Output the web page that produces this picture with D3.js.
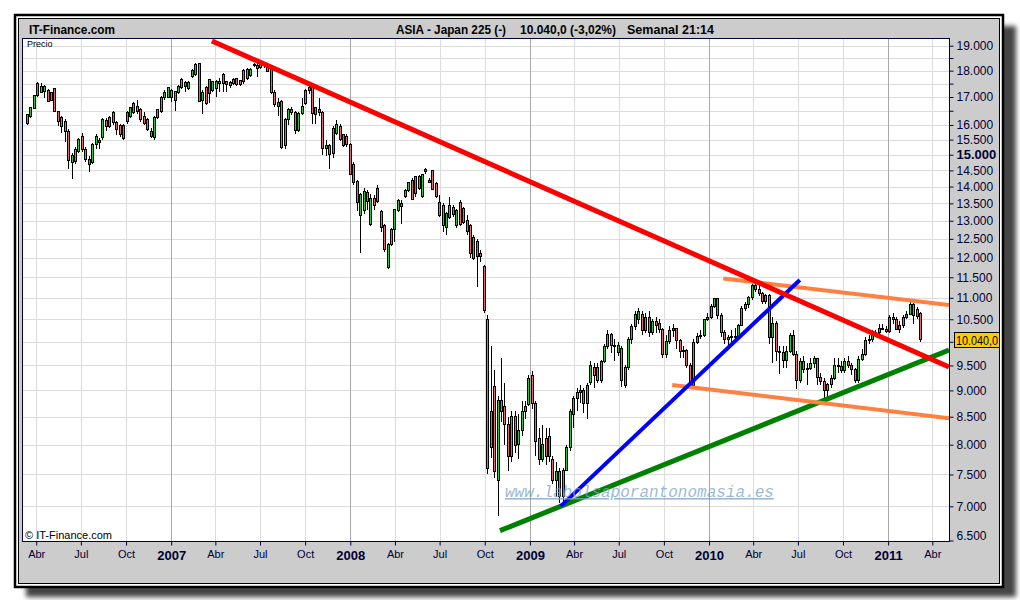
<!DOCTYPE html>
<html>
<head>
<meta charset="utf-8">
<script src="https://cdn.jsdelivr.net/npm/d3@7"></script>
<style>
    body { margin: 0; background: #ffffff; }
    svg text { font-family: "Liberation Sans", Arial, sans-serif; }
</style>
</head>
<body>
<svg id="chart" width="1020" height="600"></svg>
<script>
// Japan 225, weekly candles from the week of 13 Mar 2006 to the week of 7 Mar 2011
const firstWeek = new Date(2006, 2, 13);
const lastWeek = new Date(2011, 2, 7);

const opens = [
    16050,16300,16590,17060,17410,17220,17240,16890,17300,16480,16260,16130,15790,
    14755,14790,15110,15600,15180,14690,14760,15340,15420,15570,16160,15950,16080,
    16080,15980,15540,16120,16290,16430,16640,16540,16290,16190,15770,15570,16260,
    16470,16970,17000,17260,17190,17150,17370,17400,17300,17760,17850,18280,16880,
    17370,17140,17260,17300,17570,17520,17570,17420,17650,17690,17610,17570,18060,
    17800,18200,18200,18130,18280,18160,18050,17180,16650,16830,15300,16200,16550,
    16450,15800,16400,16750,17250,17400,16350,16450,16450,15220,15320,15040,15700,
    15950,15300,15620,15340,14690,14160,13160,13290,13820,12900,13650,13950,13270,
    12860,11750,12350,12760,13290,13400,13690,13880,14200,13780,13950,13700,14520,
    14200,14490,14100,13530,13450,12800,13100,13380,12860,13530,13350,13000,12860,
    12550,12020,12120,11760,10500,7950,9070,7400,8800,8700,8350,7800,8500,
    8000,8250,8600,8730,9300,8750,8100,7750,8100,8150,7750,7400,7550,
    7150,7570,7950,8550,8850,8950,9000,8750,9150,9450,9450,9200,9580,
    9900,10150,9920,9780,9850,9100,9450,10050,10340,10500,10600,10250,10550,
    10200,10450,10400,10265,9730,10016,10257,10282,10034,9789,9804,9500,9100,
    9977,10107,10142,10494,10546,10798,10980,10590,10198,10057,10092,10123,10126,
    10368,10751,10846,10996,11286,11204,11102,10914,11050,10100,10400,9784,9762,
    9600,9800,10143,9737,9203,9585,9408,9431,9537,9642,9253,9179,8991,
    9114,9239,9509,9471,9404,9589,9500,9426,9202,9625,9724,10022,10039,
    10178,10211,10303,10279,10229,10541,10499,10274,10360,10543,10605,10842,10720,
    10640
];
const highs = [
    16400,16640,17080,17560,17520,17440,17300,17200,17350,16500,16300,16200,15850,
    15050,15250,15550,15740,15250,14950,15380,15680,15570,16250,16250,16300,16480,
    16150,16050,16030,16480,16650,16830,16890,16600,16470,16250,15910,16300,16580,
    17050,17260,17380,17300,17230,17450,17700,17600,17600,18050,18300,18320,17260,
    17400,17680,17600,17620,17720,17900,17600,17600,17700,17720,17650,18050,18100,
    18100,18300,18300,18320,18320,18200,18100,17250,16950,16900,16250,16600,16620,
    16500,16450,16950,17300,17450,17450,16650,16950,16480,15500,15350,15960,16170,
    16050,15700,15700,15400,14750,14200,13800,13950,13900,13780,13750,14050,13300,
    12900,12400,12800,13350,13620,13600,13920,14150,14250,14320,14350,14400,14560,
    14250,14520,14150,13750,13500,13250,13680,13450,13350,13600,13400,13150,12900,
    12600,12500,12200,11800,10600,9900,9400,8900,9650,9150,8500,8600,8600,
    8550,8800,8800,9300,9380,8800,8300,8350,8300,8300,7800,7700,7600,
    7600,8000,8650,8900,9050,9100,9050,9150,9600,9550,9550,9620,9950,
    10250,10200,10050,10000,9900,9500,10100,10400,10680,10750,10700,10650,10700,
    10500,10550,10500,10300,10150,10350,10400,10300,10050,9900,9850,9550,10050,
    10200,10250,10500,10650,10850,11000,11000,10650,10250,10150,10250,10300,10400,
    10800,10900,11050,11330,11350,11300,11150,11100,11100,10550,10450,9900,9900,
    9900,10200,10250,9800,9650,9700,9550,9650,9700,9650,9350,9250,9150,
    9300,9650,9650,9600,9650,9700,9550,9450,9700,9850,10100,10150,10250,
    10250,10400,10400,10350,10600,10650,10550,10450,10600,10700,10900,10870,10780,
    10660
];
const lows = [
    16000,16250,16550,17000,17130,16960,16800,16850,16450,15950,15740,15410,14530,
    14225,14700,15050,15100,14750,14440,14700,15180,15180,15500,15800,15900,16000,
    15670,15600,15500,16050,16250,16400,16400,16100,16000,15780,15570,15500,16200,
    16430,16900,16950,16830,16480,17100,17300,17200,17250,17700,17800,16800,16380,
    16700,16780,17200,17010,17200,17200,17200,17350,17450,17400,17400,17500,17650,
    17750,18150,17760,18050,18120,17950,17100,16650,16300,15200,15200,16000,16350,
    15700,15750,16350,16700,17100,16050,16050,16300,15000,14950,14530,14900,15650,
    15450,15250,15250,14350,14050,13290,12120,13200,13300,12860,13300,13500,12700,
    12150,11700,12300,12420,13250,12900,13650,13850,13600,13700,13900,13650,14400,
    14100,13900,13650,13100,12690,12600,13050,13100,12800,12850,12900,12600,11990,
    11950,11250,11900,10650,7500,7770,7450,6850,8400,8000,7550,7700,7850,
    7750,8150,8450,8700,8650,7800,7650,7700,7650,7700,7350,7150,7050,
    7050,7550,7900,8300,8600,8750,8570,8450,9100,9050,9150,9150,9550,
    9850,9750,9600,9700,9070,9050,9400,9950,10250,10400,10150,10200,10100,
    10150,10200,10200,9650,9650,9950,10100,9850,9650,9650,9450,9080,9050,
    9950,10050,10100,10450,10500,10750,10500,10100,9950,9900,10000,10050,10100,
    10350,10700,10750,10950,11150,11050,10850,10850,9950,9550,9600,9330,9450,
    9450,9750,9700,9030,9150,9350,9100,9400,9450,9100,9100,8830,8820,
    9050,9200,9350,9350,9350,9450,9300,9150,9150,9600,9700,9950,10000,
    10100,10150,10250,10200,10200,10400,10250,10200,10300,10500,10600,10400,10500,
    9990
];
const closes = [
    16360,16600,17040,17510,17150,17400,16830,17160,16480,16130,15950,15790,14800,
    14980,15180,15500,15180,14850,14850,15340,15620,15470,16190,15960,16260,16430,
    15840,15670,15980,16430,16610,16780,16470,16190,16050,15840,15610,16260,16540,
    17000,17150,17340,16970,16890,17410,17660,17540,17550,18000,18250,16850,17180,
    16780,17650,17570,17600,17510,17850,17480,17560,17510,17450,17450,18000,17700,
    18040,18250,18100,18280,18200,17980,17150,16720,16800,15240,16200,16550,16450,
    15800,16400,16650,17250,17350,16410,16620,16550,15220,15300,15000,15890,16000,
    15500,15670,15340,14380,14110,13530,13760,13850,13550,13650,13450,13550,12800,
    12220,12350,12760,13320,13580,13500,13880,14120,13600,14300,14300,14370,14480,
    14130,13920,13690,13150,12860,13200,13450,13180,13290,12900,12960,12700,12110,
    11990,12430,12020,10700,7600,8600,7550,8800,8600,8350,7800,8500,7980,
    8250,8600,8700,9230,8750,8050,7750,8000,7800,7800,7400,7550,7150,
    7570,7950,8600,8850,8950,9000,8750,9100,9500,9300,9200,9580,9900,
    10150,9920,9900,9920,9200,9450,10050,10340,10600,10680,10250,10550,10200,
    10450,10370,10265,9730,10016,10257,10282,10034,9789,9804,9497,9100,9977,
    10107,10142,10494,10546,10798,10982,10590,10198,10057,10092,10123,10126,10368,
    10751,10846,10996,11286,11204,11102,10914,11057,10100,10400,9784,9762,9600,
    9800,10143,9737,9203,9585,9408,9431,9537,9642,9253,9179,8991,9114,
    9239,9509,9471,9404,9589,9500,9426,9202,9625,9724,10022,10039,10178,
    10211,10303,10279,10229,10541,10499,10274,10360,10543,10605,10842,10580,10560,
    10040
];

// price axis (log scale in the original), every 500 points
const yTicks = [6500,7000,7500,8000,8500,9000,9500,10000,10500,11000,11500,12000,12500,
    13000,13500,14000,14500,15000,15500,16000,16500,17000,17500,18000,18500,19000];
const yUnlabelled = [10000, 16500, 17500, 18500]; // 10.000 sits under the last price box
const yBold = 15000;

// time axis: quarters, years in bold
const xTicks = ["2006-04-01","2006-07-01","2006-10-01","2007-01-01","2007-04-01","2007-07-01",
    "2007-10-01","2008-01-01","2008-04-01","2008-07-01","2008-10-01","2009-01-01","2009-04-01",
    "2009-07-01","2009-10-01","2010-01-01","2010-04-01","2010-07-01","2010-10-01","2011-01-01",
    "2011-04-01"];
const monthNames = { 3: "Abr", 6: "Jul", 9: "Oct" };

// hand drawn trend lines: [date, price] end points
const redLine = [["2007-03-25", 19195], ["2011-05-05", 9470]];
const orangeTop = [["2010-01-30", 11470], ["2011-05-05", 10830]];
const orangeBottom = [["2009-10-18", 9107], ["2011-05-05", 8472]];
const blueLine = [["2009-03-05", 7003], ["2010-07-05", 11434]];
const greenLine = [["2008-11-01", 6640], ["2011-05-05", 9823]];

const lastPrice = 10040;
const titleLeft = "IT-Finance.com";
const titleParts = ["ASIA - Japan 225 (-)", "10.040,0 (-3,02%)", "Semanal  21:14"];

// ---------------------------------------------------------------
const parseDate = d3.timeParse("%Y-%m-%d");
const esLocale = d3.formatLocale({ decimal: ",", thousands: ".", grouping: [3], currency: ["", "€"] });
const fmtInt = esLocale.format(",d");
const fmtPrice = esLocale.format(",.1f");

const plot = { left: 22, right: 949, top: 38, bottom: 541 };

const svg = d3.select("#chart");

// drop shadow behind the panel
const defs = svg.append("defs");
defs.append("filter").attr("id", "blur")
    .attr("x", "-5%").attr("y", "-5%").attr("width", "110%").attr("height", "110%")
    .append("feGaussianBlur").attr("stdDeviation", 2.5);
defs.append("clipPath").attr("id", "plotClip")
    .append("rect")
    .attr("x", plot.left).attr("y", plot.top)
    .attr("width", plot.right - plot.left).attr("height", plot.bottom - plot.top);

svg.append("rect")
    .attr("x", 26).attr("y", 26).attr("width", 990).attr("height", 571)
    .attr("fill", "#454545")
    .attr("filter", "url(#blur)");

// panel with its double border
svg.append("rect")
    .attr("x", 15).attr("y", 15).attr("width", 988).attr("height", 572)
    .attr("fill", "#ffffff").attr("stroke", "#000").attr("stroke-width", 2.5);
svg.append("rect")
    .attr("x", 18.5).attr("y", 18.5).attr("width", 981).attr("height", 565)
    .attr("fill", "#cccccc").attr("stroke", "#000").attr("stroke-width", 1);

// titles, squeezed like the narrow font of the original
const titleX = [396, 520, 627];
const titleW = [110, 96, 87];
svg.append("text")
    .attr("x", 29).attr("y", 34)
    .attr("textLength", 86).attr("lengthAdjust", "spacingAndGlyphs")
    .style("font-size", "13px").style("font-weight", "bold")
    .attr("fill", "#000")
    .text(titleLeft);
titleParts.forEach((t, i) => {
    svg.append("text")
        .attr("x", titleX[i]).attr("y", 34)
        .attr("textLength", titleW[i]).attr("lengthAdjust", "spacingAndGlyphs")
        .style("font-size", "13px").style("font-weight", "bold")
        .attr("fill", "#000")
        .text(t);
});

// scales
const x = d3.scaleTime()
    .domain([new Date(2006, 2, 3), new Date(2011, 4, 5)])
    .range([plot.left, plot.right]);
const y = d3.scaleLog()
    .domain([6500, 19000])
    .range([540.5, 45.7]);

// plot background
svg.append("rect")
    .attr("x", plot.left).attr("y", plot.top)
    .attr("width", plot.right - plot.left).attr("height", plot.bottom - plot.top)
    .attr("fill", "#ffffff");

// grid
const grid = svg.append("g").attr("clip-path", "url(#plotClip)").attr("shape-rendering", "crispEdges");
grid.selectAll(".hgrid")
    .data(yTicks)
    .enter()
    .append("line")
    .attr("x1", plot.left).attr("x2", plot.right)
    .attr("y1", d => Math.round(y(d)) + 0.5).attr("y2", d => Math.round(y(d)) + 0.5)
    .attr("stroke", "#dcdcdc");
grid.selectAll(".vgrid")
    .data(xTicks.map(parseDate))
    .enter()
    .append("line")
    .attr("x1", d => Math.round(x(d)) + 0.5).attr("x2", d => Math.round(x(d)) + 0.5)
    .attr("y1", plot.top).attr("y2", plot.bottom)
    .attr("stroke", d => d.getMonth() === 0 ? "#a8a8a8" : "#dcdcdc");

// candles
const weeks = d3.timeMonday.range(firstWeek, d3.timeDay.offset(lastWeek, 1));
const n = Math.min(weeks.length, opens.length, highs.length, lows.length, closes.length);
const candleData = d3.range(n).map(i => ({
    date: weeks[i], open: opens[i], high: highs[i], low: lows[i], close: closes[i]
}));

const candles = svg.append("g").attr("clip-path", "url(#plotClip)").attr("shape-rendering", "crispEdges");
const candle = candles.selectAll(".candle")
    .data(candleData)
    .enter()
    .append("g")
    .attr("class", "candle");

candle.append("line")
    .attr("x1", d => Math.round(x(d.date)) + 0.5)
    .attr("x2", d => Math.round(x(d.date)) + 0.5)
    .attr("y1", d => y(d.high))
    .attr("y2", d => y(d.low))
    .attr("stroke", "#000")
    .attr("stroke-width", 1.3);

candle.append("rect")
    .attr("x", d => Math.round(x(d.date)) - 0.5)
    .attr("y", d => y(Math.max(d.open, d.close)))
    .attr("width", 2)
    .attr("height", d => Math.max(1, y(Math.min(d.open, d.close)) - y(Math.max(d.open, d.close))))
    .attr("fill", d => d.close >= d.open ? "#33c433" : "#e06a6a")
    .attr("stroke", "#000")
    .attr("stroke-width", 1);

// trend lines
const trend = d3.line()
    .x(d => x(parseDate(d[0])))
    .y(d => y(d[1]));
const lines = svg.append("g").attr("clip-path", "url(#plotClip)");
[
    { pts: greenLine, color: "#008000", w: 5 },
    { pts: orangeBottom, color: "#ff8040", w: 4 },
    { pts: orangeTop, color: "#ff8040", w: 4 },
    { pts: blueLine, color: "#0000ff", w: 4 },
    { pts: redLine, color: "#ff0000", w: 5 }
].forEach(l => {
    lines.append("path")
        .attr("d", trend(l.pts))
        .attr("fill", "none")
        .attr("stroke", l.color)
        .attr("stroke-width", l.w);
});

// watermark, drawn over the lines
svg.append("text")
    .attr("x", 505).attr("y", 497)
    .style("font-family", '"Liberation Mono", "DejaVu Sans Mono", monospace')
    .style("font-size", "16px").style("font-style", "italic")
    .style("text-decoration", "underline")
    .attr("fill", "#7b9fc6").attr("fill-opacity", 0.75)
    .text("www.labolsaporantonomasia.es");

// small captions inside the plot
svg.append("text")
    .attr("x", 27).attr("y", 47)
    .style("font-size", "9px").attr("fill", "#000")
    .text("Precio");
svg.append("text")
    .attr("x", 25).attr("y", 539)
    .style("font-size", "11px").attr("fill", "#000")
    .text("© IT-Finance.com");

// plot frame
svg.append("rect")
    .attr("x", plot.left + 0.5).attr("y", plot.top + 0.5)
    .attr("width", plot.right - plot.left).attr("height", plot.bottom - plot.top)
    .attr("fill", "none").attr("stroke", "#000040").attr("stroke-width", 1);

// right price axis
const yAxis = d3.axisRight(y)
    .tickValues(yTicks)
    .tickSize(4)
    .tickPadding(3)
    .tickFormat(d => yUnlabelled.includes(d) ? "" : fmtInt(d));
const yAxisG = svg.append("g")
    .attr("transform", `translate(${plot.right + 0.5},0)`)
    .call(yAxis);
yAxisG.select(".domain").remove();
yAxisG.selectAll(".tick line").attr("stroke", "#000040");
yAxisG.selectAll(".tick text")
    .attr("fill", "#000033")
    .style("font-family", '"Liberation Sans", Arial, sans-serif')
    .style("font-weight", d => d === yBold ? "bold" : "normal")
    .style("font-size", d => d === yBold ? "13px" : "12px");
yAxisG.selectAll(".tick text").filter(d => d === 6500).attr("dy", "-0.05em");

// bottom time axis
const xAxis = d3.axisBottom(x)
    .tickValues(xTicks.map(parseDate))
    .tickSize(4)
    .tickPadding(5)
    .tickFormat(d => d.getMonth() === 0 ? String(d.getFullYear()) : monthNames[d.getMonth()]);
const xAxisG = svg.append("g")
    .attr("transform", `translate(0,${plot.bottom + 0.5})`)
    .call(xAxis);
xAxisG.select(".domain").remove();
xAxisG.selectAll(".tick line").attr("stroke", "#000040");
xAxisG.selectAll(".tick text")
    .attr("fill", "#000033")
    .style("font-family", '"Liberation Sans", Arial, sans-serif')
    .style("font-size", d => d.getMonth() === 0 ? "13px" : "11px")
    .style("font-weight", d => d.getMonth() === 0 ? "bold" : "normal");

// last price marker on the axis
const markY = Math.round(y(lastPrice));
svg.append("rect")
    .attr("x", 954.5).attr("y", markY - 7.5)
    .attr("width", 45).attr("height", 15)
    .attr("fill", "#ffcc00").attr("stroke", "#000").attr("stroke-width", 1);
svg.append("text")
    .attr("x", 956).attr("y", markY + 4.5)
    .attr("textLength", 42).attr("lengthAdjust", "spacingAndGlyphs")
    .style("font-size", "12px").attr("fill", "#000")
    .text(fmtPrice(lastPrice));
</script>
</body>
</html>
